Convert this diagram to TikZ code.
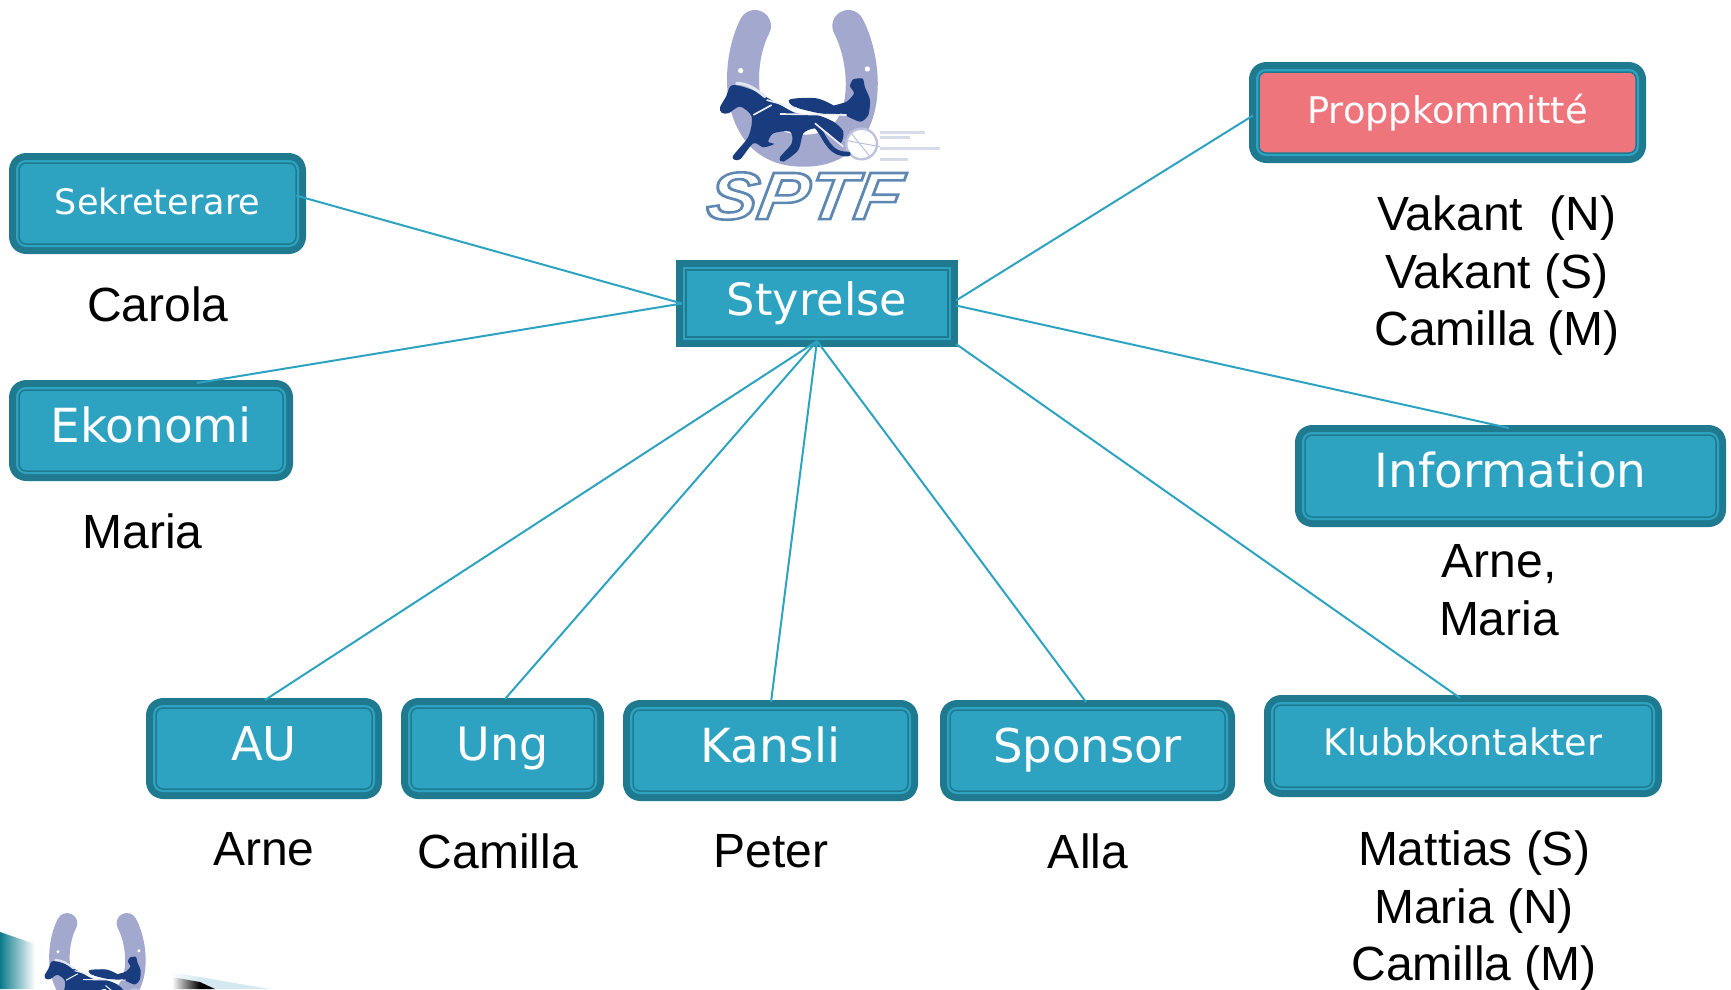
\documentclass[tikz,border=0pt]{standalone}
\usepackage{fontspec}
\setmainfont{Liberation Sans}
\newfontfamily\boxfont{DejaVu Sans}
\usetikzlibrary{calc}
\definecolor{darkrim}{HTML}{1F7A90}
\definecolor{ringblue}{HTML}{2DA3C1}
\definecolor{boxblue}{HTML}{2DA3C1}
\definecolor{pinkbox}{HTML}{EF757D}
\definecolor{shoe}{HTML}{A3A8CE}
\definecolor{horseblue}{HTML}{183C7E}
\definecolor{speedline}{HTML}{D3DCE8}
\definecolor{cornerteal}{HTML}{0B7A8A}
\definecolor{swoosh}{HTML}{D5E9F1}
\tikzset{
  fz/.style={font=\fontsize{#1}{#1}\selectfont},
  boxbase/.style={shape=rectangle, inner sep=0pt, outer sep=0pt, text=white,
    draw=darkrim, line width=1.5,
    execute at begin node={\boxfont\rule[-.25em]{0pt}{1em}}},
  boxrim/.style={boxbase,
    preaction={draw=darkrim,line width=20,line join=round},
    preaction={draw=ringblue,line width=6,line join=round},
    fill=#1},
  orgbox/.style={boxrim=boxblue, rounded corners=7},
  pinkorg/.style={boxrim=pinkbox, rounded corners=7},
  sharporg/.style={boxbase, fill=boxblue,
    preaction={draw=darkrim,line width=20,line join=miter},
    preaction={draw=ringblue,line width=6,line join=miter}},
  namelist/.style={align=center, inner sep=0pt, font=\fontsize{48}{57.5}\selectfont, text=black},
  link/.style={draw=ringblue, line width=2},
}
\newcommand{\horselogo}[1]{%
  \def\lu{#1}%
  \draw[shoe, line width=96*\lu, line cap=round]
     (345,78) .. controls (285,190) and (280,455) .. (490,452) .. controls (705,455) and (685,190) .. (625,78);
  \fill[white] (302,212) circle[radius=8];
  \fill[white] (682,207) circle[radius=8];
  \foreach \xa/\ya/\xb in {720/398/855,720/412/810,720/445/900,720/480/805}
    \draw[speedline, line width=9*\lu] (\xa,\ya) -- (\xb,\ya);
  \draw[white, fill=white, line width=1*\lu] (665,432) circle[radius=46];
  \draw[shoe!70, line width=7*\lu] (665,432) circle[radius=46];
  \draw[shoe!70, line width=3*\lu] (630,395) -- (690,470) (610,420) -- (720,440);
  \fill[horseblue] plot[smooth cycle, tension=.5] coordinates {
    (240,322)(258,290)(272,258)(300,258)(350,275)(385,295)(430,320)(470,340)(530,345)
    (580,365)(610,395)(600,430)(560,395)(525,385)(490,400)(475,450)(430,485)(420,472)
    (455,430)(450,395)(400,400)(385,425)(402,432)(370,442)(340,430)(300,478)(278,470)
    (325,410)(335,350)(300,320)(265,340)(245,338)};
  \draw[horseblue, line width=14*\lu, line cap=round]
     (525,375) .. controls (555,400) and (560,465) .. (625,462);
  \fill[horseblue] plot[smooth cycle, tension=.5] coordinates {
    (450,298)(530,295)(590,322)(600,342)(540,340)(462,320)};
  \fill[horseblue] plot[smooth cycle, tension=.4] coordinates {
    (630,258)(640,238)(668,236)(675,262)(690,300)(685,345)(660,365)(600,338)(575,320)(620,305)(642,280)};
  \draw[white!70!shoe, line width=9*\lu, line cap=round]
     (290,250) .. controls (320,250) and (345,265) .. (375,290);
  \draw[white!80!shoe, line width=5*\lu]
     (380,300) -- (470,325) (420,342) -- (620,345) (340,345) -- (395,315) (525,370) -- (610,440);
}
\begin{document}
\begin{tikzpicture}[x=1pt,y=-1pt]
\useasboundingbox (0,0) rectangle (1731,989);
\begin{scope}
\clip (0,0) rectangle (1731,989);
% corner decoration
\shade[left color=cornerteal, right color=white] (0,932) -- (35,944) -- (35,989) -- (0,989) -- cycle;
\shade[left color=white, right color=swoosh] (170,972) -- (200,977) -- (200,989) -- (170,989) -- cycle;
\fill[swoosh] (200,977) -- (270,989) -- (200,989) -- cycle;
\shade[left color=white, right color=black] (172,977) -- (200,982) -- (200,989) -- (172,989) -- cycle;
\fill[black] (200,982) -- (215,989) -- (200,989) -- cycle;
% logos
\begin{scope}[shift={(640,0)}, x=.3333pt, y=-.3333pt]
  \horselogo{.3333}
\end{scope}
\begin{scope}[shift={(-6.5,906.6)}, x=.2133pt, y=-.2133pt]
  \horselogo{.2133}
\end{scope}
\end{scope}
\node[inner sep=0pt, xscale=1.13, xslant=.14, transform shape] (sptf) at (805,196)
  {\fontsize{67}{67}\selectfont\bfseries\itshape\special{pdf:code 1 Tr 2.6 w 0.37 0.53 0.70 RG}SPTF\special{pdf:code 0 Tr}};
% boxes
\node[sharporg, fz=44.6, minimum width=262, minimum height=67] (styr) at (817,303.5) {\raisebox{-1pt}{Styrelse}};
\node[orgbox, fz=35, minimum width=277, minimum height=81] (sek) at (157.5,203.5) {\raisebox{-2pt}{Sekreterare}};
\node[orgbox, fz=47, minimum width=264, minimum height=81] (eko) at (151,430.5) {Ekonomi};
\node[pinkorg, fz=36.7, minimum width=377, minimum height=81] (prop) at (1447.5,112.5) {\raisebox{-1pt}{Proppkommitté}};
\node[orgbox, fz=47, minimum width=411, minimum height=82] (info) at (1510.5,476) {Information};
\node[orgbox, fz=46.5, minimum width=216, minimum height=81] (au) at (264,748.5) {AU};
\node[orgbox, fz=46, minimum width=183, minimum height=81] (ung) at (502.5,748.5) {Ung};
\node[orgbox, fz=47, minimum width=275, minimum height=81] (kansli) at (770.5,750.5) {Kansli};
\node[orgbox, fz=46.5, minimum width=275, minimum height=81] (spons) at (1087.5,750.5) {Sponsor};
\node[orgbox, fz=36.5, minimum width=378, minimum height=82] (klubb) at (1463,746) {Klubbkontakter};
% connectors
\coordinate (sekend) at ($(sek.east)+(0,-8)$);
\coordinate (ekoend) at ($(eko.north)+(46,-7)$);
\coordinate (propend) at ($(prop.west)+(-6,3)$);
\coordinate (styrR) at ($(styr.east)+(8,-3)$);
\coordinate (styrS) at ($(styr.east)+(8,2)$);
\coordinate (styrLow) at ($(styr.south east)+(8,7)$);
\coordinate (styrB) at ($(styr.south)+(0,4)$);
\coordinate (styrW) at ($(styr.west)+(-4,0)$);
\draw[link] (sekend) -- (styrW);
\draw[link] (ekoend) -- (styrW);
\draw[link] (propend) -- (styrR);
\draw[link] (styrS) -- ($(info.north)+(-1.5,-7)$);
\draw[link] (styrLow) -- ($(klubb.north)+(-3,-7)$);
\draw[link] (styrB) -- ($(au.north)+(1,-8)$);
\draw[link] (styrB) -- ($(ung.north)+(2.5,-9)$);
\draw[link] (styrB) -- ($(kansli.north)+(.5,-8)$);
\draw[link] (styrB) -- ($(spons.north)+(-1.5,-8)$);
% names
\node[namelist] (ncarola) at (158,304) {Carola};
\node[namelist] (nmaria) at (142.5,531) {Maria};
\node[namelist] (nprop) at (1497,276) {Vakant\ \ (N)\\Vakant (S)\\Camilla (M)};
\node[namelist] (ninfo) at (1499,590) {Arne,\\Maria};
\node[namelist] (narne) at (264,849) {Arne};
\node[namelist] (ncam) at (498,851) {Camilla};
\node[namelist] (npeter) at (771,851.5) {Peter};
\node[namelist] (nalla) at (1088,851) {Alla};
\node[namelist] (nklubb) at (1474,911) {Mattias (S)\\Maria (N)\\Camilla (M)};
\end{tikzpicture}
\end{document}
